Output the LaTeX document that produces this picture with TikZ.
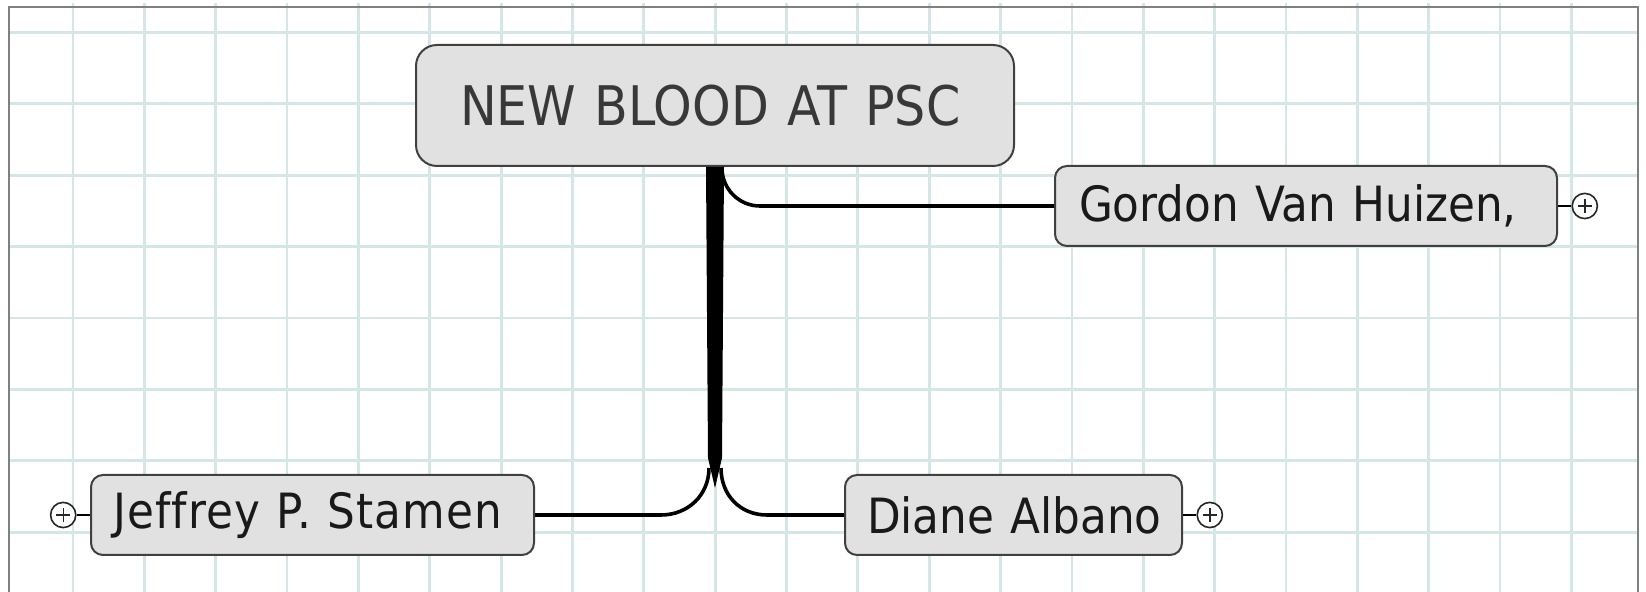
\documentclass[tikz,border=0pt]{standalone}
\usepackage{fontspec}
\setmainfont{DejaVu Sans}[FakeStretch=0.9,Ligatures=NoCommon]
\usetikzlibrary{positioning}
\definecolor{gridline}{HTML}{D5E6E6}
\definecolor{boxfill}{HTML}{E1E1E2}
\definecolor{boxline}{HTML}{404040}

\begin{document}
\begin{tikzpicture}[x=0.5pt,y=-0.5pt]
    \tikzstyle{topic}=[rectangle,draw=boxline,fill=boxfill,line width=1pt,
    rounded corners=10.5pt,minimum width=299pt,minimum height=60.5pt,
    inner xsep=22pt,text width=255pt,align=left,
    font=\fontsize{27.3}{32}\selectfont,text=black!78]

    \tikzstyle{person}=[rectangle,draw=boxline,fill=boxfill,line width=1pt,
    rounded corners=6pt,minimum height=40pt,inner ysep=0pt,inner xsep=11pt,
    align=left,font=\fontsize{24.3}{28}\selectfont,text=black!90]

    \tikzstyle{expander}=[circle,draw=black!85,fill=white,line width=0.8pt,
    minimum size=12.6pt,inner sep=0pt,
    path picture={\draw[line width=0.7pt]
      ([xshift=-3.6pt]path picture bounding box.center) -- ([xshift=3.6pt]path picture bounding box.center)
      ([yshift=-3.6pt]path picture bounding box.center) -- ([yshift=3.6pt]path picture bounding box.center);}]

    \tikzstyle{branch}=[line width=1.8pt,black]

    \useasboundingbox (0,0) rectangle (1646,592);
    \clip (0,0) rectangle (1646,592);

    % paper
    \foreach \i in {0,...,21}
      \draw[gridline,line width=1.4pt] ({73+71.35*\i},3) -- ({73+71.35*\i},592);
    \foreach \j in {0,...,7}
      \draw[gridline,line width=1.4pt] (8.5,{32.5+71.4*\j}) -- (1638,{32.5+71.4*\j});
    \draw[black!50,line width=1pt] (8.5,620) -- (8.5,7) -- (1638,7) -- (1638,620);

    \node[topic](psc_root) at (715,105.5){\mbox{NEW BLOOD AT PSC}};
    \node[person,inner xsep=12pt,text width=227pt](gordon) at (1306,206){\mbox{Gordon Van Huizen,}};
    \node[person,text width=199.5pt](jeffrey) at (312.5,515){\mbox{\addfontfeature{LetterSpace=2.4}Jeffrey P. Stamen}};
    \node[person,text width=146.5pt](diane) at (1013.5,515){\mbox{Diane Albano}};

    \node[expander](gordon_plus)[right=6.7pt of gordon]{};
    \node[expander](jeffrey_plus)[left=6.7pt of jeffrey]{};
    \node[expander](diane_plus)[right=6.7pt of diane]{};

    \coordinate (fork) at (715,468);

    % tapering trunk and its branches
    \draw[branch,rounded corners=19pt] ([xshift=3.5pt]psc_root.south) |- (gordon.west);
    \draw[branch] ([xshift=-3pt]fork) .. controls +(0,27) and +(27,0) .. ([xshift=-27pt]fork |- jeffrey.east) -- (jeffrey.east);
    \draw[branch] ([xshift=3pt]fork) .. controls +(0,27) and +(-27,0) .. ([xshift=26pt]fork |- diane.west) -- (diane.west);
    \fill ([xshift=-4.5pt]psc_root.south) -- ([xshift=4.5pt]psc_root.south)
      -- ([shift={(3.5pt,5pt)}]fork) -- ([yshift=-10pt]fork) -- ([shift={(-3.5pt,5pt)}]fork) -- cycle;

    \draw[line width=1pt] (gordon) -- (gordon_plus);
    \draw[line width=1pt] (jeffrey) -- (jeffrey_plus);
    \draw[line width=1pt] (diane) -- (diane_plus);
  \end{tikzpicture}
\end{document}
